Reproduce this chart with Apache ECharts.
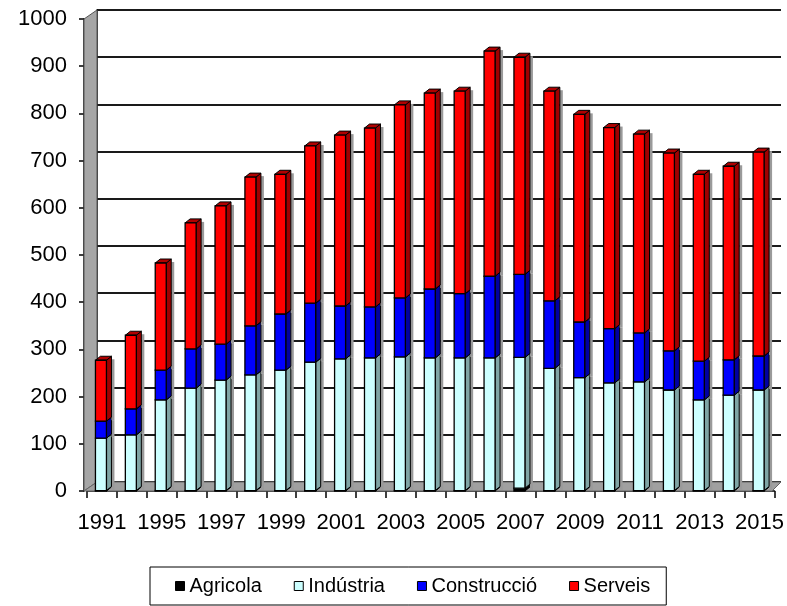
<!DOCTYPE html>
<html>
<head>
<meta charset="utf-8">
<script src="https://cdn.jsdelivr.net/npm/echarts@6/dist/echarts.min.js"></script>
<style>html,body{margin:0;padding:0;background:#fff;}#c{width:787px;height:606px;}</style>
</head>
<body>
<div id="c"></div>
<script>
var years = ['1991','1993','1995','1996','1997','1998','1999','2000','2001','2002','2003','2004','2005','2006','2007','2008','2009','2010','2011','2012','2013','2014','2015'];
var agricola     = [1,1,1,1,1,1,1,1,1,1,1,1,1,1,6,1,1,1,1,1,1,1,1];
var industria    = [111,118,192,217,234,245,255,272,279,281,283,281,281,281,277,259,239,228,230,213,192,202,213];
var construccio  = [36,55,63,83,76,104,119,125,112,108,125,146,136,173,176,143,118,115,104,83,82,75,72];
var serveis      = [129,156,227,267,293,315,296,333,362,379,409,415,429,477,460,444,440,426,421,419,396,410,432];
var yTicks = [0,100,200,300,400,500,600,700,800,900,1000];

var seriesDefs = [
  {name:'Agricola', values:agricola, front:'#000000', side:'#000000', top:'#111111'},
  {name:'Indústria', values:industria, front:'#CCFFFF', side:'#7FA5A5', top:'#A8D8D8'},
  {name:'Construcció', values:construccio, front:'#0000FF', side:'#0000A0', top:'#0000C0'},
  {name:'Serveis', values:serveis, front:'#FF0000', side:'#A00000', top:'#B00000'}
];

var cum = years.map(function(){return 0;});
var series = [];
seriesDefs.forEach(function(d){
  var data = years.map(function(y, i){
    var lo = cum[i], hi = cum[i] + d.values[i];
    cum[i] = hi;
    return [i, lo, hi];
  });
  series.push({
    name: d.name,
    type: 'custom',
    xAxisIndex: 0, yAxisIndex: 0,
    itemStyle: {color: d.front, borderColor:'#000', borderWidth:1},
    encode: {x: 0, y: [1, 2]},
    data: data,
    renderItem: (function(front, side, topc){
      return function(params, api){
        var i = api.value(0), lo = api.value(1), hi = api.value(2);
        if (hi - lo <= 0) return;
        var b = api.coord([i, lo]), t = api.coord([i, hi]);
        var bw = 11, dx = 5, dy = 4;
        var x0 = b[0] - bw/2 - 1, x1 = x0 + bw;
        var yb = b[1], yt = t[1];
        return {type:'group', children:[
          {type:'rect', shape:{x:x1+dx, y:yt-dy+3, width:3, height:yb-yt}, style:{fill:'#9a9a9a'}},
          {type:'polygon', shape:{points:[[x1,yt],[x1+dx,yt-dy],[x1+dx,yb-dy],[x1,yb]]}, style:{fill:side, stroke:'#000', lineWidth:1}},
          {type:'polygon', shape:{points:[[x0,yt],[x0+dx,yt-dy],[x1+dx,yt-dy],[x1,yt]]}, style:{fill:topc, stroke:'#000', lineWidth:1}},
          {type:'rect', shape:{x:x0, y:yt, width:bw, height:yb-yt}, style:{fill:front, stroke:'#000', lineWidth:1.3}}
        ]};
      };
    })(d.front, d.side, d.top)
  });
});

var chart = echarts.init(document.getElementById('c'), null, {renderer:'canvas'});
chart.setOption({
  backgroundColor:'#ffffff',
  animation:false,
  textStyle:{fontFamily:'Liberation Sans, Arial, sans-serif'},
  grid:[
    {left:87, right:10, top:19, bottom:115},
    {left:97, right:6, top:10, bottom:124}
  ],
  graphic:[
    {type:'polygon', z:1, shape:{points:[[84,19],[97,10],[97,482],[84,491]]}, style:{fill:'#A6A6A6', stroke:'#555', lineWidth:1}},
    {type:'polygon', z:1, shape:{points:[[84,491],[97,482],[781,482],[772,491]]}, style:{fill:'#A0A0A0', stroke:'#666', lineWidth:1}}
  ],
  xAxis:[
    {type:'category', gridIndex:0, data:years, boundaryGap:true, offset:2,
     axisLine:{show:true, lineStyle:{color:'#000', width:1.5}},
     axisTick:{show:true, interval:0, length:7, lineStyle:{color:'#000', width:1.5}},
     axisLabel:{interval:1, color:'#000', fontSize:22, margin:19, fontFamily:'Liberation Sans, Arial, sans-serif'},
     splitLine:{show:false}},
    {type:'value', gridIndex:1, show:false, min:0, max:1}
  ],
  yAxis:[
    {type:'value', gridIndex:0, min:0, max:1000, interval:100, offset:3,
     axisLine:{show:true, lineStyle:{color:'#000', width:1.5}},
     axisTick:{show:true, length:5, lineStyle:{color:'#000', width:1.5}},
     axisLabel:{color:'#000', fontSize:22, margin:17, fontFamily:'Liberation Sans, Arial, sans-serif',
       formatter:function(v){return String(v);}},
     splitLine:{show:false}},
    {type:'value', gridIndex:1, min:0, max:1000, interval:100, position:'right',
     axisLine:{show:true, lineStyle:{color:'#000', width:1.5}},
     axisTick:{show:false}, axisLabel:{show:false},
     splitLine:{show:true, lineStyle:{color:'#1a1a1a', width:2}}}
  ],
  legend:{
    left:150, top:567,
    orient:'horizontal',
    padding:[9,16,9,25],
    itemGap:32,
    itemWidth:9, itemHeight:9,
    icon:'rect',
    borderColor:'#000', borderWidth:1,
    textStyle:{color:'#000', fontSize:20, fontFamily:'Liberation Sans, Arial, sans-serif'},
    data: seriesDefs.map(function(d){
      return {name:d.name, itemStyle:{color:d.front, borderColor:'#000', borderWidth:1}};
    })
  },
  series: series
});
</script>
</body>
</html>
